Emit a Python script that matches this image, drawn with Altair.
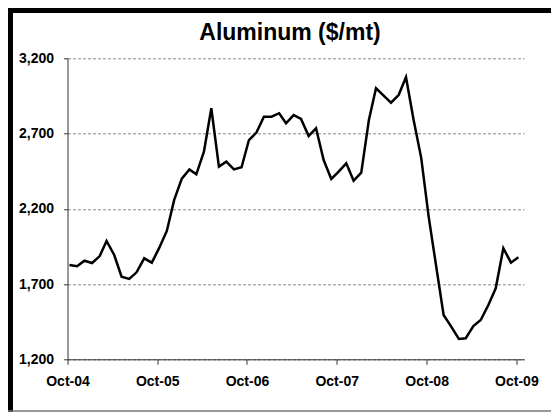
import altair as alt
import pandas as pd

# Monthly aluminum price, Oct-04 .. Oct-09 ($/mt)
months = pd.date_range("2004-10-01", periods=61, freq="MS")
prices = [
    1827, 1818, 1855, 1840, 1886, 1986, 1893, 1749, 1734, 1778, 1871, 1842,
    1940, 2053, 2259, 2400, 2462, 2429, 2580, 2868, 2480, 2513, 2462, 2476,
    2657, 2708, 2812, 2812, 2835, 2768, 2823, 2797, 2684, 2735, 2524, 2398,
    2447, 2502, 2387, 2440, 2790, 3001, 2952, 2905, 2956, 3074, 2790, 2537,
    2150, 1815, 1494, 1417, 1335, 1340, 1421, 1461, 1561, 1672, 1938, 1842,
    1878,
]
y_ticks = [1200, 1700, 2200, 2700, 3200]
x_tick_years = [2004, 2005, 2006, 2007, 2008, 2009]
title_text = "Aluminum ($/mt)"

df = pd.DataFrame({
    "date": [(m + pd.Timedelta(days=8)).strftime("%Y-%m-%d") for m in months],
    "price": prices,
})

FONT = "Liberation Sans"
W, H = 456.5, 301

x_scale = alt.Scale(
    type="utc",
    domain=[alt.DateTime(year=2004, month=10, date=1, utc=True),
            alt.DateTime(year=2009, month=11, date=1, utc=True)],
)
x_axis = alt.Axis(
    values=[alt.DateTime(year=y, month=10, date=1, utc=True) for y in x_tick_years],
    labelExpr="utcFormat(datum.value, '%b-%y')", title=None, grid=False,
    labelFont=FONT, labelFontSize=14, labelFontWeight="bold", labelColor="#000",
    labelPadding=10, tickSize=5, tickColor="#333", domainColor="#333",
    labelFlush=False, labelOverlap=False,
)
y_axis = alt.Axis(
    values=y_ticks, labelExpr="format(datum.value, ',.0f')", title=None, grid=True,
    gridDash=[3, 2], gridColor="#8a8a8a", gridWidth=1,
    labelFont=FONT, labelFontSize=14, labelFontWeight="bold", labelColor="#000",
    labelPadding=10, tickSize=4, tickColor="#333", domainColor="#333",
)

line = alt.Chart(df).mark_line(color="#000", strokeWidth=2.5).encode(
    x=alt.X("date:T", scale=x_scale, axis=x_axis),
    y=alt.Y("price:Q", scale=alt.Scale(domain=[1200, 3200], nice=False, zero=False), axis=y_axis),
)

one = alt.Data(values=[{}])
title = alt.Chart(one).mark_text(
    text=title_text, font=FONT, fontSize=23, fontWeight="bold",
    color="#000", align="center", baseline="alphabetic",
).encode(x=alt.value(222.5), y=alt.value(-18.5))

frame_left = alt.Chart(one).mark_rule(color="#000", strokeWidth=5).encode(
    x=alt.value(-57), y=alt.value(-50.3), y2=alt.value(353.7))
frame_top = alt.Chart(one).mark_rule(color="#000", strokeWidth=5).encode(
    x=alt.value(-59.5), x2=alt.value(483.5), y=alt.value(-47.8))
frame_bottom = alt.Chart(one).mark_rule(color="#777", strokeWidth=1.5).encode(
    x=alt.value(-59.5), x2=alt.value(483.5), y=alt.value(352.8))

chart = alt.layer(line, title, frame_left, frame_top, frame_bottom).properties(
    width=W, height=H,
    autosize=alt.AutoSizeParams(type="none"),
    padding={"left": 59.5, "top": 50.3, "right": 27, "bottom": 52.7},
    background="white",
).configure_view(stroke=None)

chart.save("out.html", embed_options={"renderer": "svg", "actions": False})
